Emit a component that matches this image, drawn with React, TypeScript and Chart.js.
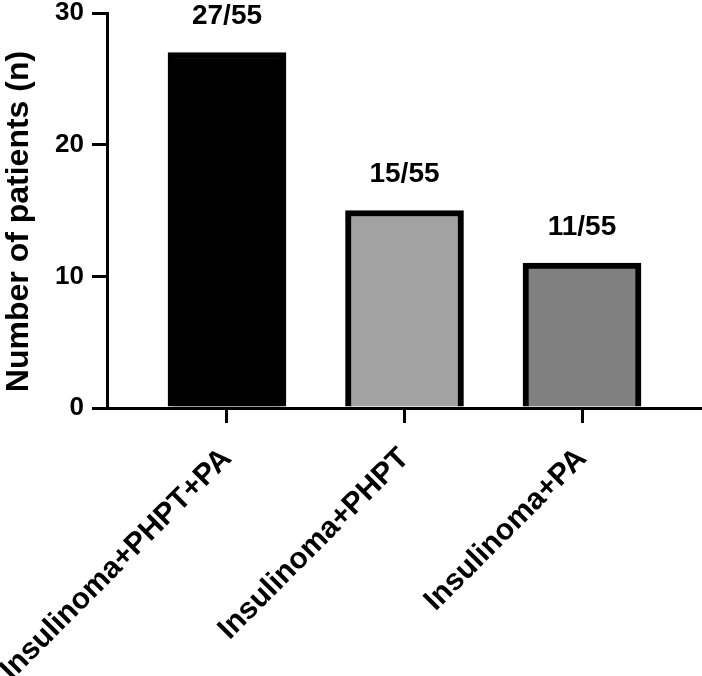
import React, { useEffect, useRef } from "react";
import { Chart, registerables } from "chart.js";

Chart.register(...registerables);

const categories = ["Insulinoma+PHPT+PA", "Insulinoma+PHPT", "Insulinoma+PA"];
const positions = [1, 2, 3];
const patients = [27, 15, 11];
const valueLabels = ["27/55", "15/55", "11/55"];
const barColors = ["#000000", "#a2a2a2", "#808080"];
const yTicks = [0, 10, 20, 30];
const yTitle = "Number of patients (n)";

const FONT = "'Liberation Sans', Arial, Helvetica, sans-serif";

const valueLabelPlugin = {
  id: "valueLabels",
  afterDatasetsDraw(chart: any) {
    const ctx = chart.ctx;
    const meta = chart.getDatasetMeta(0);
    ctx.save();
    ctx.font = `bold 28px ${FONT}`;
    ctx.fillStyle = "#000";
    ctx.textAlign = "center";
    ctx.textBaseline = "middle";
    meta.data.forEach((el: any, i: number) => {
      ctx.fillText(valueLabels[i], el.x, el.y - 36);
    });
    ctx.restore();
  },
};

const yTitlePlugin = {
  id: "yTitle",
  afterDraw(chart: any) {
    const ctx = chart.ctx;
    const area = chart.chartArea;
    ctx.save();
    ctx.font = `bold 32px ${FONT}`;
    ctx.fillStyle = "#000";
    ctx.textAlign = "center";
    ctx.textBaseline = "middle";
    ctx.translate(19, (area.top + area.bottom) / 2 + 11);
    ctx.rotate(-Math.PI / 2);
    ctx.fillText(yTitle, 0, 0);
    ctx.restore();
  },
};

export default function App() {
  const ref = useRef<HTMLCanvasElement>(null);

  useEffect(() => {
    document.body.style.margin = "0";
    const canvas = ref.current;
    if (!canvas) return;
    const chart = new Chart(canvas, {
      type: "bar",
      data: {
        datasets: [
          {
            data: positions.map((p, i) => ({ x: p, y: patients[i] })),
            backgroundColor: barColors,
            borderColor: "#000000",
            borderWidth: 6,
            barThickness: 118,
          },
        ],
      },
      options: {
        animation: false,
        responsive: false,
        maintainAspectRatio: false,
        layout: { padding: { top: 13, right: 0, left: 0, bottom: 0 } },
        plugins: {
          legend: { display: false },
          tooltip: { enabled: false },
        },
        scales: {
          x: {
            type: "linear",
            offset: false,
            min: 0.324,
            max: 3.676,
            afterBuildTicks: (axis: any) => {
              axis.ticks = positions.map((v) => ({ value: v }));
            },
            afterFit: (scale: any) => {
              scale.height = 268;
              scale.paddingLeft = 0;
              scale.paddingRight = 0;
            },
            ticks: {
              autoSkip: false,
              minRotation: 45,
              maxRotation: 45,
              padding: 18,
              color: "#000",
              font: { family: FONT, size: 30, weight: "bold" },
              callback: (v: any) => {
                const idx = positions.indexOf(Number(v));
                return idx >= 0 ? categories[idx] : "";
              },
            },
            grid: {
              display: true,
              offset: false,
              drawOnChartArea: false,
              drawTicks: true,
              tickLength: 15,
              lineWidth: 3,
              color: "#000",
            },
            border: { display: true, width: 3, color: "#000" },
          },
          y: {
            type: "linear",
            min: 0,
            max: 30,
            afterBuildTicks: (axis: any) => {
              axis.ticks = yTicks.map((v) => ({ value: v }));
            },
            afterFit: (scale: any) => {
              scale.width = 107;
              scale.paddingTop = 0;
              scale.paddingBottom = 0;
            },
            ticks: {
              padding: 8,
              color: "#000",
              font: { family: FONT, size: 26, weight: "bold" },
            },
            grid: {
              display: true,
              drawOnChartArea: false,
              drawTicks: true,
              tickLength: 15,
              lineWidth: 3,
              color: "#000",
            },
            border: { display: true, width: 3, color: "#000" },
            title: { display: false, text: yTitle },
          },
        },
      },
      plugins: [valueLabelPlugin, yTitlePlugin],
    });
    return () => chart.destroy();
  }, []);

  return (
    <div style={{ width: 702, height: 676 }}>
      <canvas ref={ref} width={702} height={676} style={{ display: "block" }} />
    </div>
  );
}
